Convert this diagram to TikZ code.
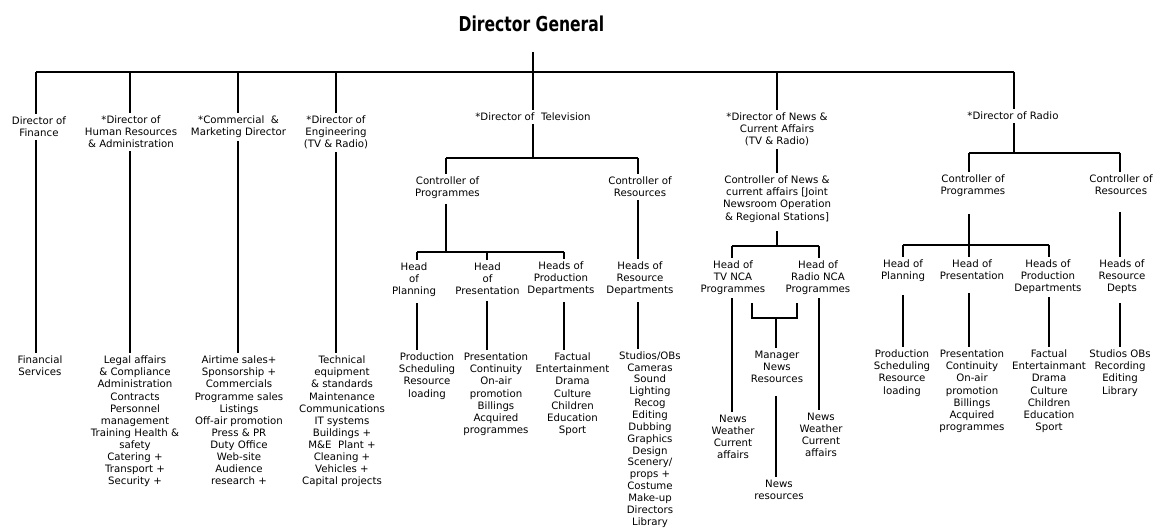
\documentclass[tikz,border=0pt]{standalone}
\usepackage{fontspec}
\usepackage{graphicx}
\setmainfont{DejaVu Sans}
\begin{document}
\begin{tikzpicture}[x=1pt,y=-1pt,
  lbl/.style={align=center,inner sep=0pt,outer sep=3pt,anchor=north,yshift=7pt,
              font=\fontsize{10.2}{12.1}\selectfont},
  wire/.style={line width=1.3pt,black}]
\fill[white] (0,0) rectangle (1158,529);
\useasboundingbox (0,0) rectangle (1158,529);

% ---------- head of the organisation ----------
\node[anchor=base,inner sep=0pt,font=\fontsize{20.5}{24}\selectfont\bfseries] (dg) at (531.5,32)
  {\scalebox{0.76}[1]{Director General}};

% main bus and its drop points
\coordinate (bFin) at (36,72);
\coordinate (bHR)  at (130,72);
\coordinate (bCom) at (238,72);
\coordinate (bEng) at (336,72);
\coordinate (bTV)  at (533,72);
\coordinate (bNew) at (777,72);
\coordinate (bRad) at (1014,72);
\draw[wire] ([yshift=-20pt]dg.base -| bTV) -- (bTV);
\draw[wire] (bFin) -- (bRad);

% ---------- directors ----------
\node[lbl] (fin) at (39,121)   {Director of\\Finance};
\node[lbl] (hr)  at (131,120)  {*Director of\\Human Resources\\\& Administration};
\node[lbl] (com) at (238.5,120){*Commercial~~\&\\Marketing Director};
\node[lbl] (eng) at (336,120)  {*Director of\\Engineering\\(TV \& Radio)};
\node[lbl] (tv)  at (533,117)  {*Director of~~Television};
\node[lbl] (new) at (777,117)  {*Director of News \&\\Current Affairs\\(TV \& Radio)};
\node[lbl] (rad) at (1013,116) {*Director of Radio};

\foreach \b/\n in {bFin/fin,bHR/hr,bCom/com,bEng/eng,bTV/tv,bNew/new,bRad/rad}
  \draw[wire] (\b) -- (\n.north -| \b);

% ---------- functions under the first four directors ----------
\node[lbl] (finsub) at (40,360) {Financial\\Services};
\node[lbl] (hrsub) at (135,360) {Legal affairs\\\& Compliance\\Administration\\Contracts\\Personnel\\management\\Training Health \&\\safety\\Catering +\\Transport +\\Security +};
\node[lbl] (comsub) at (239,360) {Airtime sales+\\Sponsorship +\\Commercials\\Programme sales\\Listings\\Off-air promotion\\Press \& PR\\Duty Office\\Web-site\\Audience\\research +};
\node[lbl] (engsub) at (342,360) {Technical\\equipment\\\& standards\\Maintenance\\Communications\\IT systems\\Buildings +\\M\&E~~Plant +\\Cleaning +\\Vehicles +\\Capital projects};

\foreach \b/\n/\s in {bFin/fin/finsub,bHR/hr/hrsub,bCom/com/comsub,bEng/eng/engsub}
  \draw[wire] (\n.south -| \b) -- (\s.north -| \b);

% ---------- Television ----------
\coordinate (tvL) at (446,158);
\coordinate (tvM) at (533,158);
\coordinate (tvR) at (638,158);
\draw[wire] (tv.south -| tvM) -- (tvM);
\draw[wire] (tvL) -- (tvR);

\node[lbl] (tvcp) at (447.5,181) {Controller of\\Programmes};
\node[lbl] (tvcr) at (640,181)   {Controller of\\Resources};
\draw[wire] (tvL) -- (tvcp.north -| tvL);
\draw[wire] (tvR) -- (tvcr.north -| tvR);

\coordinate (tpL) at (417,252);
\coordinate (tpM) at (446,252);
\coordinate (tpC) at (487,252);
\coordinate (tpR) at (564,252);
\draw[wire] ([yshift=-2pt]tvcp.south -| tpM) -- (tpM);
\draw[wire] (tpL) -- (tpR);

\node[lbl] (tvhp)  at (414,267)   {Head\\of\\Planning};
\node[lbl] (tvhpr) at (487.5,267) {Head\\of\\Presentation};
\node[lbl] (tvhpd) at (561,266)   {Heads of\\Production\\Departments};
\node[lbl] (tvhr)  at (640,266)   {Heads of\\Resource\\Departments};
\draw[wire] (tpL) -- (tvhp.north -| tpL);
\draw[wire] (tpC) -- (tvhpr.north -| tpC);
\draw[wire] (tpR) -- (tvhpd.north -| tpR);
\draw[wire] (tvcr.south -| tvR) -- (tvhr.north -| tvR);

\node[lbl] (tvsp)  at (427,357)   {Production\\Scheduling\\Resource\\loading};
\node[lbl] (tvspr) at (496,357)   {Presentation\\Continuity\\On-air\\promotion\\Billings\\Acquired\\programmes};
\node[lbl] (tvspd) at (572.5,357) {Factual\\Entertainment\\Drama\\Culture\\Children\\Education\\Sport};
\node[lbl,font=\fontsize{10.2}{11.85}\selectfont] (tvsr) at (650,355.5)
  {Studios/OBs\\Cameras\\Sound\\Lighting\\Recog\\Editing\\Dubbing\\Graphics\\Design\\Scenery/\\props +\\Costume\\Make-up\\Directors\\Library};
\draw[wire] ([yshift=-3pt]tvhp.south -| tpL)  -- (tvsp.north -| tpL);
\draw[wire] ([yshift=-3pt]tvhpr.south -| tpC) -- (tvspr.north -| tpC);
\draw[wire] ([yshift=-3pt]tvhpd.south -| tpR) -- (tvspd.north -| tpR);
\draw[wire] ([yshift=-3pt]tvhr.south -| tvR)  -- (tvsr.north -| tvR);

% ---------- News & Current Affairs ----------
\node[lbl] (newc) at (777,180) {Controller of News \&\\current affairs [Joint\\Newsroom Operation\\\& Regional Stations]};
\draw[wire] (new.south -| bNew) -- (newc.north -| bNew);

\coordinate (nbL) at (732,246);
\coordinate (nbM) at (777,246);
\coordinate (nbR) at (819,246);
\draw[wire] ([yshift=-6pt]newc.south -| nbM) -- (nbM);
\draw[wire] (nbL) -- (nbR);

\node[lbl] (ntv)  at (733,265) {Head of\\TV NCA\\Programmes};
\node[lbl] (nrad) at (818,265) {Head of\\Radio NCA\\Programmes};
\draw[wire] (nbL) -- (ntv.north -| nbL);
\draw[wire] (nbR) -- (nrad.north -| nbR);

\node[lbl] (ntvs)  at (733,419) {News\\Weather\\Current\\affairs};
\node[lbl] (nrads) at (821,417) {News\\Weather\\Current\\affairs};
\draw[wire] (ntv.south -| nbL)  -- (ntvs.north -| nbL);
\draw[wire] (nrad.south -| nbR) -- (nrads.north -| nbR);

% shared news resources, fed from both programme heads
\coordinate (brL) at (752,303);
\coordinate (brR) at (797,303);
\coordinate (brM) at (776,318);
\draw[wire] (brL) |- (brM) -| (brR);
\node[lbl] (mgr)  at (777,355) {Manager\\News\\Resources};
\node[lbl] (mgrs) at (779,484) {News\\resources};
\draw[wire] (brM) -- (mgr.north -| brM);
\draw[wire] ([yshift=-10pt]mgr.south -| brM) -- (mgrs.north -| brM);

% ---------- Radio ----------
\coordinate (rbL) at (969,153);
\coordinate (rbR) at (1120,153);
\draw[wire] (rad.south -| bRad) -- (bRad |- rbL);
\draw[wire] (rbL) -- (rbR);

\node[lbl] (rcp) at (973,179)  {Controller of\\Programmes};
\node[lbl] (rcr) at (1121,179) {Controller of\\Resources};
\draw[wire] (rbL) -- (rcp.north -| rbL);
\draw[wire] (rbR) -- (rcr.north -| rbR);

\coordinate (rpL) at (903,245);
\coordinate (rpM) at (969,245);
\coordinate (rpR) at (1049,245);
\draw[wire] ([yshift=-14pt]rcp.south -| rpM) -- (rpM);
\draw[wire] (rpL) -- (rpR);

\node[lbl] (rhp)  at (903,264)  {Head of\\Planning};
\node[lbl] (rhpr) at (972,264)  {Head of\\Presentation};
\node[lbl] (rhpd) at (1048,264) {Heads of\\Production\\Departments};
\node[lbl] (rhr)  at (1122,264) {Heads of\\Resource\\Depts};
\draw[wire] (rpL) -- (rhp.north -| rpL);
\draw[wire] (rpM) -- (rhpr.north -| rpM);
\draw[wire] (rpR) -- (rhpd.north -| rpR);
\draw[wire] ([yshift=-14pt]rcr.south -| rbR) -- (rhr.north -| rbR);

\node[lbl] (rsp)  at (902,354)  {Production\\Scheduling\\Resource\\loading};
\node[lbl] (rspr) at (972,354)  {Presentation\\Continuity\\On-air\\promotion\\Billings\\Acquired\\programmes};
\node[lbl] (rspd) at (1049,354) {Factual\\Entertainmant\\Drama\\Culture\\Children\\Education\\Sport};
\node[lbl] (rsr)  at (1120,354) {Studios OBs\\Recording\\Editing\\Library};
\draw[wire] ([yshift=-10pt]rhp.south -| rpL)  -- (rsp.north -| rpL);
\draw[wire] ([yshift=-10pt]rhpr.south -| rpM) -- (rspr.north -| rpM);
\draw[wire] (rhpd.south -| rpR) -- (rspd.north -| rpR);
\draw[wire] ([yshift=-6pt]rhr.south -| rbR)  -- (rsr.north -| rbR);
\end{tikzpicture}
\end{document}
